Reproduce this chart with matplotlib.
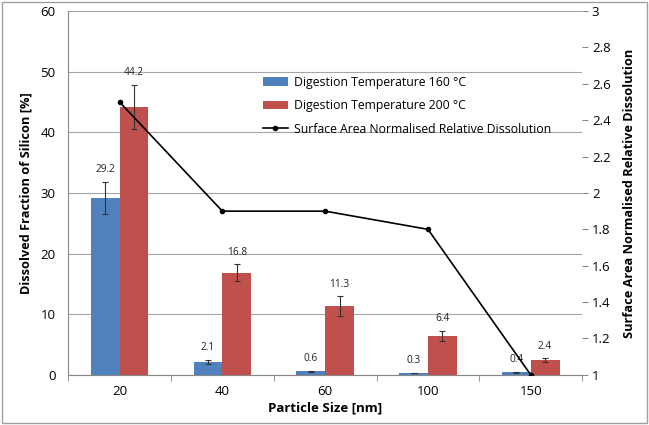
import numpy as np
import matplotlib.pyplot as plt
from matplotlib.patches import Rectangle

sizes = ['20', '40', '60', '100', '150']
t160 = [29.2, 2.1, 0.6, 0.3, 0.4]
t160_err = [2.65, 0.35, 0.1, 0.05, 0.05]
t200 = [44.2, 16.8, 11.3, 6.4, 2.4]
t200_err = [3.6, 1.4, 1.65, 0.85, 0.3]
norm_diss = [2.5, 1.9, 1.9, 1.8, 1.0]

plt.rcParams['font.family'] = ['Open Sans', 'DejaVu Sans']

fig = plt.figure(figsize=(6.49, 4.25), dpi=100)
ax = fig.add_axes([0.105, 0.118, 0.792, 0.856])
x = np.arange(len(sizes))
w = 0.28

b1 = ax.bar(x - w / 2, t160, w, color='#4F81BD', label='Digestion Temperature 160 °C', zorder=2)
b2 = ax.bar(x + w / 2, t200, w, color='#C0504D', label='Digestion Temperature 200 °C', zorder=2)
ax.errorbar(x - w / 2, t160, yerr=t160_err, fmt='none', ecolor='#333333', elinewidth=0.8, capsize=2.5, capthick=0.8, zorder=3)
ax.errorbar(x + w / 2, t200, yerr=t200_err, fmt='none', ecolor='#333333', elinewidth=0.8, capsize=2.5, capthick=0.8, zorder=3)

for xi, v, e in zip(x - w / 2, t160, t160_err):
    ax.text(xi, v + e + 1.1, f'{v}', ha='center', va='bottom', fontsize=7.3, color='#222222')
for xi, v, e in zip(x + w / 2, t200, t200_err):
    ax.text(xi, v + e + 1.1, f'{v}', ha='center', va='bottom', fontsize=7.3, color='#222222')

ax.set_xlim(-0.5, len(sizes) - 0.5)
ax.set_ylim(0, 60)
ax.set_yticks(range(0, 61, 10))
ax.set_xticks(x)
ax.set_xticklabels(sizes)
ax.set_xticks(np.arange(-0.5, len(sizes), 1), minor=True)
ax.tick_params(axis='x', which='major', length=0, labelsize=9.5, pad=7)
ax.tick_params(axis='x', which='minor', length=4, color='#888888')
ax.tick_params(axis='y', length=0, labelsize=9.5, pad=9)
ax.yaxis.grid(True, color='#A6A6A6', linewidth=0.8, zorder=0)
ax.set_axisbelow(True)
for s in ['top', 'right']:
    ax.spines[s].set_visible(False)
for s in ['left', 'bottom']:
    ax.spines[s].set_color('#888888')
ax.set_xlabel('Particle Size [nm]', fontsize=9.5, fontweight='bold', labelpad=3)
ax.set_ylabel('Dissolved Fraction of Silicon [%]', fontsize=9.2, fontweight='bold', labelpad=6)

ax2 = ax.twinx()
ln, = ax2.plot(x, norm_diss, color='black', marker='o', markersize=3, linewidth=1.2,
               markerfacecolor='black', label='Surface Area Normalised Relative Dissolution', zorder=4)
ax2.set_ylim(1, 3)
ax2.set_yticks(np.round(np.arange(1, 3.01, 0.2), 1))
ax2.set_yticklabels(['1', '1.2', '1.4', '1.6', '1.8', '2', '2.2', '2.4', '2.6', '2.8', '3'])
ax2.tick_params(axis='y', length=4, color='#888888', labelsize=9.5, pad=3)
for s in ['top', 'left', 'bottom', 'right']:
    ax2.spines[s].set_visible(False)
ax2.set_ylabel('Surface Area Normalised Relative Dissolution', fontsize=9.2, fontweight='bold', labelpad=9)

ax2.legend(handles=[b1, b2, ln], loc='upper left', bbox_to_anchor=(0.37, 0.835), frameon=False,
           fontsize=8.8, handlelength=2.0, handletextpad=0.5, labelspacing=0.85, borderaxespad=0)

fig.patches.append(Rectangle((0.003, 0.004), 0.994, 0.992, transform=fig.transFigure,
                             fill=False, edgecolor='#A0A0A0', linewidth=1))

fig.savefig('out.png', dpi=100)
